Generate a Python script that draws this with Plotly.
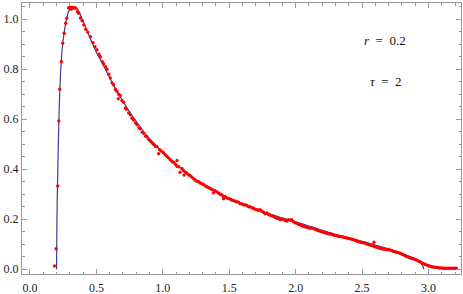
import plotly.graph_objects as go

# Blue theoretical curve
curve_x = [0.200, 0.203, 0.207, 0.212, 0.217, 0.224, 0.235, 0.247, 0.260, 0.275, 0.290, 0.310,
           0.330, 0.350, 0.370, 0.400, 0.450, 0.500, 0.550, 0.600, 0.650, 0.700, 0.750, 0.800,
           0.850, 0.900, 0.950, 1.000, 1.050, 1.100, 1.150, 1.200, 1.250, 1.300, 1.350, 1.400,
           1.450, 1.500, 1.600, 1.700, 1.800, 1.900, 2.000, 2.100, 2.200, 2.300, 2.400, 2.500,
           2.600, 2.700, 2.800, 2.850, 2.900, 2.930, 2.950, 2.960, 2.965]
curve_y = [0.000, 0.200, 0.330, 0.460, 0.580, 0.710, 0.830, 0.905, 0.955, 1.000, 1.030, 1.046,
           1.050, 1.045, 1.030, 0.993, 0.928, 0.868, 0.818, 0.766, 0.716, 0.672, 0.630, 0.592,
           0.555, 0.522, 0.494, 0.468, 0.443, 0.420, 0.398, 0.378, 0.358, 0.340, 0.325, 0.310,
           0.296, 0.283, 0.260, 0.240, 0.222, 0.205, 0.190, 0.173, 0.156, 0.140, 0.126, 0.112,
           0.097, 0.081, 0.063, 0.053, 0.042, 0.032, 0.020, 0.010, 0.000]

# Red simulation points
dots_x = [0.184, 0.197, 0.209, 0.217, 0.224, 0.237, 0.247, 0.257, 0.269, 0.277, 0.290, 0.300,
          0.310, 0.315, 0.325, 0.335, 0.345, 0.357, 0.367, 0.380, 0.392, 0.405, 0.420, 0.435,
          0.455, 0.475, 0.490, 0.505, 0.520, 0.530, 0.545, 0.555, 0.570, 0.580, 0.593, 0.605,
          0.618, 0.630, 0.643, 0.655, 0.668, 0.665, 0.680, 0.693, 0.705, 0.718, 0.726, 0.743,
          0.756, 0.768, 0.780, 0.795, 0.806, 0.820, 0.831, 0.845, 0.856, 0.870, 0.880, 0.893,
          0.905, 0.918, 0.930, 0.944, 0.956, 0.968, 0.976, 0.990, 1.005, 1.018, 1.030, 1.044,
          1.056, 1.070, 1.082, 1.095, 1.107, 1.107, 1.120, 1.130, 1.144, 1.156, 1.160, 1.170,
          1.180, 1.194, 1.207, 1.220, 1.232, 1.244, 1.257, 1.270, 1.282, 1.295, 1.307, 1.320,
          1.332, 1.345, 1.357, 1.370, 1.382, 1.390, 1.405, 1.420, 1.432, 1.445, 1.457, 1.457,
          1.470, 1.482, 1.495, 1.510, 1.520, 1.532, 1.545, 1.557, 1.570, 1.582, 1.595, 1.607,
          1.620, 1.633, 1.645, 1.658, 1.670, 1.683, 1.695, 1.708, 1.720, 1.733, 1.746, 1.758,
          1.770, 1.783, 1.795, 1.808, 1.820, 1.833, 1.845, 1.858, 1.870, 1.883, 1.895, 1.908,
          1.920, 1.934, 1.946, 1.960, 1.971, 1.983, 1.996, 2.009, 2.020, 2.034, 2.046, 2.059,
          2.070, 2.083, 2.096, 2.108, 2.120, 2.134, 2.146, 2.159, 2.170, 2.185, 2.197, 2.210,
          2.222, 2.235, 2.247, 2.260, 2.272, 2.285, 2.297, 2.310, 2.322, 2.335, 2.347, 2.360,
          2.372, 2.385, 2.397, 2.410, 2.423, 2.435, 2.447, 2.460, 2.472, 2.485, 2.497, 2.510,
          2.523, 2.535, 2.548, 2.560, 2.573, 2.590, 2.585, 2.598, 2.610, 2.623, 2.635, 2.648,
          2.660, 2.673, 2.685, 2.698, 2.710, 2.723, 2.735, 2.748, 2.760, 2.773, 2.786, 2.798,
          2.810, 2.823, 2.835, 2.848, 2.860, 2.873, 2.885, 2.898, 2.910, 2.923, 2.936, 2.948,
          2.960, 2.974, 2.986, 3.000, 3.011, 3.025, 3.037, 3.049, 3.062, 3.075, 3.086, 3.100,
          3.112, 3.124, 3.137, 3.150, 3.162, 3.175, 3.187, 3.200, 3.210]
dots_y = [0.013, 0.082, 0.333, 0.593, 0.720, 0.830, 0.904, 0.944, 0.984, 1.004, 1.045, 1.048,
          1.040, 1.048, 1.044, 1.046, 1.044, 1.030, 1.024, 1.005, 0.994, 0.977, 0.960, 0.948,
          0.930, 0.906, 0.890, 0.878, 0.860, 0.850, 0.830, 0.822, 0.810, 0.800, 0.780, 0.765,
          0.745, 0.738, 0.720, 0.712, 0.700, 0.682, 0.695, 0.675, 0.668, 0.645, 0.640, 0.625,
          0.618, 0.604, 0.597, 0.585, 0.578, 0.566, 0.562, 0.548, 0.544, 0.532, 0.530, 0.520,
          0.513, 0.506, 0.500, 0.492, 0.490, 0.462, 0.478, 0.472, 0.466, 0.458, 0.452, 0.445,
          0.438, 0.430, 0.428, 0.420, 0.435, 0.412, 0.410, 0.388, 0.403, 0.395, 0.377, 0.388,
          0.385, 0.378, 0.374, 0.368, 0.362, 0.357, 0.352, 0.350, 0.345, 0.342, 0.339, 0.333,
          0.330, 0.327, 0.322, 0.320, 0.306, 0.315, 0.310, 0.305, 0.300, 0.297, 0.292, 0.282,
          0.290, 0.285, 0.283, 0.280, 0.276, 0.275, 0.272, 0.270, 0.268, 0.262, 0.262, 0.258,
          0.258, 0.255, 0.250, 0.250, 0.246, 0.244, 0.240, 0.238, 0.236, 0.238, 0.232, 0.228,
          0.222, 0.225, 0.220, 0.216, 0.214, 0.212, 0.207, 0.205, 0.203, 0.198, 0.200, 0.200,
          0.195, 0.193, 0.198, 0.196, 0.198, 0.190, 0.186, 0.184, 0.180, 0.178, 0.174, 0.172,
          0.170, 0.168, 0.166, 0.164, 0.165, 0.163, 0.160, 0.157, 0.155, 0.152, 0.150, 0.148,
          0.146, 0.144, 0.142, 0.141, 0.140, 0.137, 0.135, 0.134, 0.132, 0.131, 0.130, 0.128,
          0.127, 0.125, 0.123, 0.122, 0.120, 0.118, 0.116, 0.113, 0.111, 0.109, 0.107, 0.106,
          0.104, 0.101, 0.099, 0.097, 0.095, 0.108, 0.093, 0.090, 0.088, 0.086, 0.084, 0.082,
          0.081, 0.080, 0.079, 0.078, 0.077, 0.075, 0.072, 0.070, 0.068, 0.066, 0.064, 0.061,
          0.058, 0.054, 0.051, 0.049, 0.046, 0.044, 0.042, 0.040, 0.037, 0.033, 0.030, 0.026,
          0.023, 0.020, 0.017, 0.014, 0.012, 0.010, 0.009, 0.008, 0.007, 0.006, 0.005, 0.005,
          0.004, 0.004, 0.004, 0.004, 0.004, 0.004, 0.004, 0.004, 0.004]

labels = ["<i>r</i>\u00a0\u00a0=\u00a0\u00a00.2", "<i>τ</i>\u00a0\u00a0=\u00a0\u00a02"]
label_x = [2.67, 2.68]
label_y = [0.914, 0.753]

x_range = [-0.06, 3.245]
y_range = [-0.019, 1.065]

SERIF = "Liberation Serif, Times New Roman, DejaVu Serif, serif"

fig = go.Figure()
fig.add_trace(go.Scatter(x=curve_x, y=curve_y, mode="lines",
                         line=dict(color="#3d3d99", width=1.2, shape="spline", smoothing=0.5),
                         hoverinfo="skip"))
fig.add_trace(go.Scatter(x=dots_x, y=dots_y, mode="markers",
                         marker=dict(color="#ff0000", size=3.3, line=dict(width=0))))

for t, lx, ly in zip(labels, label_x, label_y):
    fig.add_annotation(x=lx, y=ly, text=t, showarrow=False,
                       font=dict(family=SERIF, size=13, color="#111"))

axis_common = dict(showline=True, linecolor="#999999", linewidth=1, mirror="ticks",
                   ticks="inside", tickcolor="#999999", ticklen=5, tickwidth=1,
                   showgrid=False, zeroline=False, tickformat=".1f", automargin=False,
                   tickfont=dict(family=SERIF, size=12, color="#222"))

fig.update_xaxes(range=x_range, dtick=0.5, tick0=0, ticklabelstandoff=3,
                 minor=dict(ticks="inside", dtick=0.1, ticklen=2.5, tickcolor="#999999", showgrid=False),
                 **axis_common)
fig.update_yaxes(range=y_range, dtick=0.2, tick0=0,
                 minor=dict(ticks="inside", dtick=0.05, ticklen=2.5, tickcolor="#999999", showgrid=False),
                 **axis_common)

fig.update_layout(width=463, height=294, margin=dict(l=22, r=2, t=3, b=20),
                  paper_bgcolor="white", plot_bgcolor="white", showlegend=False)

fig.write_html("out.html", config={"displayModeBar": False, "staticPlot": True},
               post_script="document.body.style.margin='0';document.body.style.overflow='hidden';")
